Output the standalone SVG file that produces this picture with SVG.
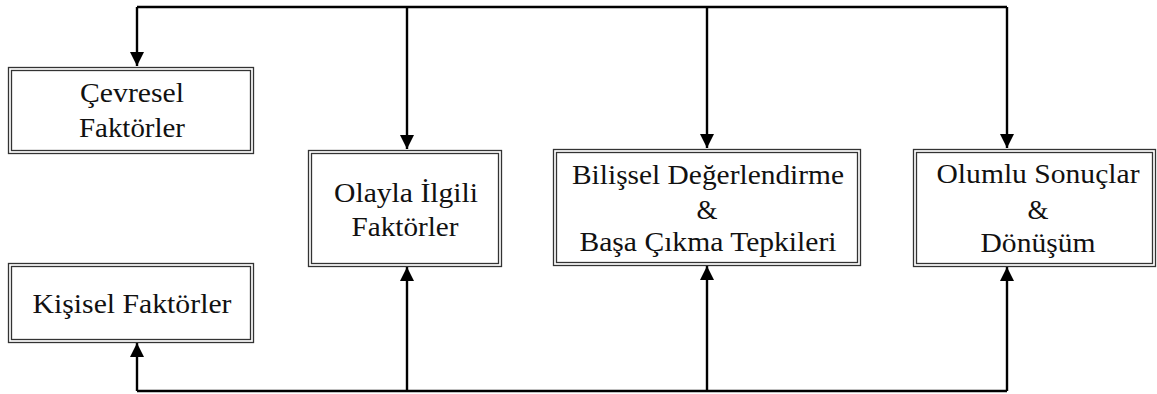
<svg xmlns="http://www.w3.org/2000/svg" width="1157" height="394" viewBox="0 0 1157 394">
<style>
.outer{fill:#fff;stroke:#333;stroke-width:1.3}
.inner{fill:none;stroke:#333;stroke-width:1.3}
text{font-family:"Liberation Serif","DejaVu Serif","Noto Serif","Times New Roman",serif;font-size:27px;fill:#111;text-anchor:middle}
.c{fill:none;stroke:#000;stroke-width:2.4}
</style>
<defs>
<marker id="ah" viewBox="0 0 10 10" refX="10" refY="5" markerWidth="6" markerHeight="6" orient="auto" markerUnits="strokeWidth">
<path d="M0,0 L10,5 L0,10 Z" fill="#000"/>
</marker>
</defs>
<g id="connectors">
<path class="c" d="M137,7 H1007"/>
<path class="c" d="M137,7 V66" marker-end="url(#ah)"/>
<path class="c" d="M407,7 V149" marker-end="url(#ah)"/>
<path class="c" d="M707,7 V148" marker-end="url(#ah)"/>
<path class="c" d="M1007,7 V148" marker-end="url(#ah)"/>
<path class="c" d="M137,391 H1007"/>
<path class="c" d="M137,391 V343" marker-end="url(#ah)"/>
<path class="c" d="M407,391 V267" marker-end="url(#ah)"/>
<path class="c" d="M707,391 V266" marker-end="url(#ah)"/>
<path class="c" d="M1007,391 V267" marker-end="url(#ah)"/>
</g>
<g id="cevresel">
<rect class="outer" x="8.5" y="67.5" width="245" height="86"/>
<rect class="inner" x="11.5" y="70.5" width="239" height="80"/>
<text x="132" y="102" textLength="104" lengthAdjust="spacingAndGlyphs">Çevresel</text>
<text x="132" y="137" textLength="106" lengthAdjust="spacingAndGlyphs">Faktörler</text>
</g>
<g id="kisisel">
<rect class="outer" x="8.5" y="263.5" width="245" height="79"/>
<rect class="inner" x="11.5" y="266.5" width="239" height="73"/>
<text x="132" y="313" textLength="199" lengthAdjust="spacingAndGlyphs">Kişisel Faktörler</text>
</g>
<g id="olayla">
<rect class="outer" x="308.5" y="150.5" width="193" height="116"/>
<rect class="inner" x="311.5" y="153.5" width="187" height="110"/>
<text x="406" y="202" textLength="144" lengthAdjust="spacingAndGlyphs">Olayla İlgili</text>
<text x="405" y="236" textLength="107" lengthAdjust="spacingAndGlyphs">Faktörler</text>
</g>
<g id="bilissel">
<rect class="outer" x="553.5" y="149.5" width="307" height="116"/>
<rect class="inner" x="556.5" y="152.5" width="301" height="110"/>
<text x="708" y="184" textLength="272" lengthAdjust="spacingAndGlyphs">Bilişsel Değerlendirme</text>
<text x="707" y="219">&amp;</text>
<text x="708" y="251" textLength="257" lengthAdjust="spacingAndGlyphs">Başa Çıkma Tepkileri</text>
</g>
<g id="olumlu">
<rect class="outer" x="913.5" y="149.5" width="242" height="117"/>
<rect class="inner" x="916.5" y="152.5" width="236" height="111"/>
<text x="1038" y="183" textLength="203" lengthAdjust="spacingAndGlyphs">Olumlu Sonuçlar</text>
<text x="1038" y="219">&amp;</text>
<text x="1038" y="252" textLength="115" lengthAdjust="spacingAndGlyphs">Dönüşüm</text>
</g>
</svg>
